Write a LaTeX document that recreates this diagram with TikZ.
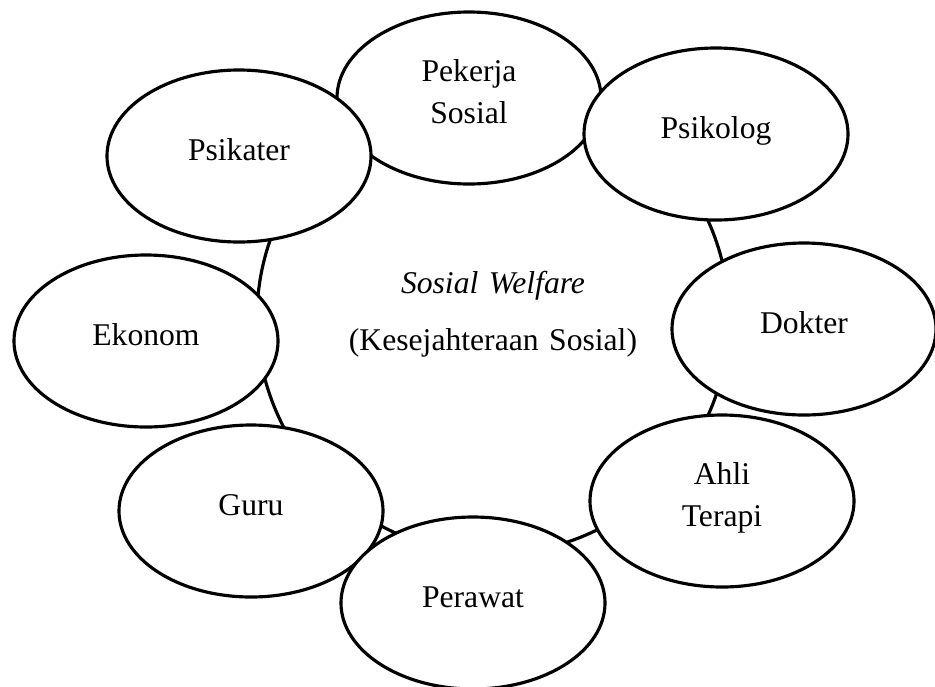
\documentclass[tikz,border=0pt]{standalone}
\usepackage{fontspec}
\setmainfont{Liberation Serif}
\usetikzlibrary{shapes.geometric}
\tikzset{
  oval/.style={ellipse, draw, fill=white, line width=1.8pt, minimum width=52.8mm, minimum height=34.4mm,
    text width=30mm, align=center, text height=13pt, text depth=8pt},
  duabaris/.style={text depth=31.5pt}
}
\begin{document}
\begin{tikzpicture}[x=0.2mm, y=-0.2mm, font=\fontsize{18pt}{23.5pt}\selectfont]
  \useasboundingbox (0,0) rectangle (935,686);
  \node[circle, draw, line width=1.8pt, minimum size=94.4mm, text width=70mm, align=center,
    text height=13pt, text depth=40.5pt] (welfare) at (493,318) {\textit{Sosial Welfare}\\[9pt](Kesejahteraan Sosial)};
  \node[oval, duabaris] (pekerja) at (469,98) {Pekerja\\Sosial};
  \node[oval] (psikater) at (239,156) {Psikater};
  \node[oval] (psikolog) at (716,134) {Psikolog};
  \node[oval] (ekonom) at (146,341) {Ekonom};
  \node[oval] (dokter) at (804,329) {Dokter};
  \node[oval] (guru) at (251,511) {Guru};
  \node[oval, duabaris] (ahli) at (722,501) {Ahli\\Terapi};
  \node[oval] (perawat) at (473,603) {Perawat};
\end{tikzpicture}
\end{document}
